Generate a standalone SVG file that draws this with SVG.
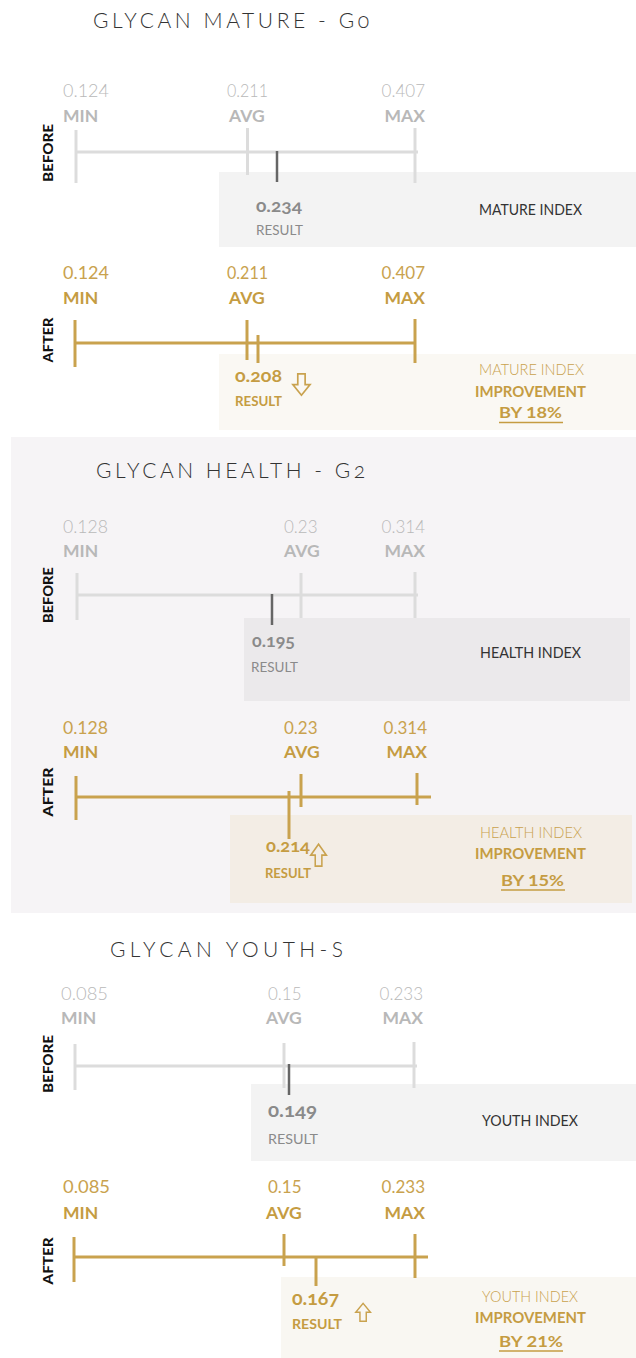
<svg xmlns="http://www.w3.org/2000/svg" xmlns:xlink="http://www.w3.org/1999/xlink" width="636" height="1358" viewBox="0 0 636 1358">
<style>
.title{font-family:Lato,"Liberation Sans",sans-serif;font-weight:300;font-size:21px;fill:#333;font-variant-numeric:oldstyle-nums}
.num-g{font-family:Lato,"Liberation Sans",sans-serif;font-weight:300;font-size:17px;fill:#b9b9b9}
.lab-g{font-family:Lato,"Liberation Sans",sans-serif;font-weight:700;font-size:17.5px;fill:#b8b8b8}
.num-a{font-family:Lato,"Liberation Sans",sans-serif;font-weight:400;font-size:17px;fill:#c9a24e}
.lab-a{font-family:Lato,"Liberation Sans",sans-serif;font-weight:700;font-size:17.5px;fill:#c59c42}
.side{font-family:Lato,"Liberation Sans",sans-serif;font-weight:900;font-size:13px;fill:#111}
.axis-g{stroke:#dcdcdc;stroke-width:3;fill:none}
.axis-a{stroke:#c9a24e;stroke-width:3;fill:none}
.res-g{stroke:#666;stroke-width:2.5}
.rnum-g{font-family:Lato,"Liberation Sans",sans-serif;font-weight:700;font-size:17px;fill:#8a8a8a;font-variant-numeric:oldstyle-nums}
.rres-g{font-family:Lato,"Liberation Sans",sans-serif;font-weight:400;font-size:14px;fill:#8a8a8a}
.rnum-a{font-family:Lato,"Liberation Sans",sans-serif;font-weight:700;font-size:17px;fill:#c59c42;font-variant-numeric:oldstyle-nums}
.rres-a{font-family:Lato,"Liberation Sans",sans-serif;font-weight:700;font-size:14px;fill:#c59c42}
.idx-g{font-family:Lato,"Liberation Sans",sans-serif;font-weight:400;font-size:15px;fill:#333}
.idx-a{font-family:Lato,"Liberation Sans",sans-serif;font-weight:300;font-size:15px;fill:#c9a24e}
.imp-a{font-family:Lato,"Liberation Sans",sans-serif;font-weight:700;font-size:15px;fill:#c59c42}
.ul{stroke:#c59c42;stroke-width:1.5}
.arrow{fill:none;stroke:#c9a24e;stroke-width:1.6;stroke-linejoin:miter}
</style>
<defs>
<path id="arrowDown" d="M5.5,0.8 H12.5 V11 H17.2 L9,21.2 L0.8,11 H5.5 Z"/>
</defs>

<!-- Section 1: MATURE -->
<g id="section-mature">
<text class="title" x="93" y="28" textLength="276" lengthAdjust="spacing">GLYCAN MATURE - G0</text>
</g>
<g id="mature-before">
<text class="num-g" x="63" y="97" textLength="46" lengthAdjust="spacingAndGlyphs">0.124</text>
<text class="lab-g" x="63" y="122">MIN</text>
<text class="num-g" x="227" y="97" textLength="41" lengthAdjust="spacingAndGlyphs">0.211</text>
<text class="lab-g" x="229" y="122">AVG</text>
<text class="num-g" x="425" y="97" text-anchor="end">0.407</text>
<text class="lab-g" x="425" y="122" text-anchor="end">MAX</text>
<text class="side" transform="translate(53,153) rotate(-90)" text-anchor="middle" textLength="58" lengthAdjust="spacingAndGlyphs">BEFORE</text>
<rect x="219" y="172" width="417" height="75" fill="#f3f3f3"/>
<line class="axis-g" x1="76" y1="130" x2="76" y2="183"/>
<line class="axis-g" x1="76" y1="152" x2="418" y2="152"/>
<line class="axis-g" x1="247.5" y1="128" x2="247.5" y2="175"/>
<line class="axis-g" x1="415" y1="128" x2="415" y2="183"/>
<line class="res-g" x1="277" y1="151" x2="277" y2="182"/>
<text class="rnum-g" x="256" y="212" textLength="46" lengthAdjust="spacingAndGlyphs">0.234</text>
<text class="rres-g" x="256" y="235" textLength="47" lengthAdjust="spacingAndGlyphs">RESULT</text>
<text class="idx-g" x="479" y="215" textLength="103" lengthAdjust="spacingAndGlyphs">MATURE INDEX</text>
</g>
<g id="mature-after">
<text class="num-a" x="63" y="279" textLength="46" lengthAdjust="spacingAndGlyphs">0.124</text>
<text class="lab-a" x="63" y="304">MIN</text>
<text class="num-a" x="227" y="279" textLength="41" lengthAdjust="spacingAndGlyphs">0.211</text>
<text class="lab-a" x="229" y="304">AVG</text>
<text class="num-a" x="425" y="279" text-anchor="end">0.407</text>
<text class="lab-a" x="425" y="304" text-anchor="end">MAX</text>
<text class="side" transform="translate(53,340) rotate(-90)" text-anchor="middle" textLength="45" lengthAdjust="spacingAndGlyphs">AFTER</text>
<rect x="219" y="354" width="417" height="76" fill="#faf8f3"/>
<line class="axis-a" x1="75" y1="320" x2="75" y2="367"/>
<line class="axis-a" x1="75" y1="343" x2="415" y2="343"/>
<line class="axis-a" x1="247" y1="320" x2="247" y2="360"/>
<line class="axis-a" x1="258" y1="335" x2="258" y2="363"/>
<line class="axis-a" x1="415" y1="319" x2="415" y2="363"/>
<text class="rnum-a" x="235" y="382" textLength="47" lengthAdjust="spacingAndGlyphs">0.208</text>
<use href="#arrowDown" class="arrow" transform="translate(292,373) scale(1.05,1.05)"/>
<text class="rres-a" x="235" y="406" textLength="47" lengthAdjust="spacingAndGlyphs">RESULT</text>
<text class="idx-a" x="479" y="375" textLength="105" lengthAdjust="spacingAndGlyphs">MATURE INDEX</text>
<text class="imp-a" x="475" y="397" textLength="111" lengthAdjust="spacingAndGlyphs">IMPROVEMENT</text>
<text class="imp-a" x="499" y="418" textLength="63" lengthAdjust="spacingAndGlyphs">BY 18%</text>
<line class="ul" x1="499" y1="422.5" x2="563" y2="422.5"/>
</g>

<!-- Section 2: HEALTH -->
<g id="section-health">
<rect x="11" y="437" width="625" height="476" fill="#f6f4f6"/>
<text class="title" x="96" y="478" textLength="269" lengthAdjust="spacing">GLYCAN HEALTH - G2</text>
</g>
<g id="health-before">
<text class="num-g" x="63" y="533" textLength="45" lengthAdjust="spacingAndGlyphs">0.128</text>
<text class="lab-g" x="63" y="557">MIN</text>
<text class="num-g" x="284" y="533">0.23</text>
<text class="lab-g" x="284" y="557">AVG</text>
<text class="num-g" x="425" y="533" text-anchor="end">0.314</text>
<text class="lab-g" x="425" y="557" text-anchor="end">MAX</text>
<text class="side" transform="translate(53,595) rotate(-90)" text-anchor="middle" textLength="56" lengthAdjust="spacingAndGlyphs">BEFORE</text>
<rect x="244" y="618" width="386" height="83" fill="#ebe9eb"/>
<line class="axis-g" x1="77" y1="573" x2="77" y2="620"/>
<line class="axis-g" x1="77" y1="595" x2="418" y2="595"/>
<line class="axis-g" x1="301" y1="573" x2="301" y2="618"/>
<line class="axis-g" x1="415" y1="572" x2="415" y2="618"/>
<line class="res-g" x1="272" y1="594" x2="272" y2="625"/>
<text class="rnum-g" x="252" y="647" textLength="43" lengthAdjust="spacingAndGlyphs">0.195</text>
<text class="rres-g" x="251" y="672" textLength="47" lengthAdjust="spacingAndGlyphs">RESULT</text>
<text class="idx-g" x="480" y="658" textLength="101" lengthAdjust="spacingAndGlyphs">HEALTH INDEX</text>
</g>
<g id="health-after">
<text class="num-a" x="63" y="734" textLength="45" lengthAdjust="spacingAndGlyphs">0.128</text>
<text class="lab-a" x="63" y="758">MIN</text>
<text class="num-a" x="284" y="734">0.23</text>
<text class="lab-a" x="284" y="758">AVG</text>
<text class="num-a" x="427" y="734" text-anchor="end">0.314</text>
<text class="lab-a" x="427" y="758" text-anchor="end">MAX</text>
<text class="side" transform="translate(53,792) rotate(-90)" text-anchor="middle" textLength="49" lengthAdjust="spacingAndGlyphs">AFTER</text>
<rect x="230" y="815" width="402" height="88" fill="#f3ede5"/>
<line class="axis-a" x1="76" y1="776" x2="76" y2="820"/>
<line class="axis-a" x1="76" y1="797" x2="431" y2="797"/>
<line class="axis-a" x1="301" y1="774" x2="301" y2="807"/>
<line class="axis-a" x1="417" y1="773" x2="417" y2="805"/>
<line class="axis-a" x1="289" y1="791" x2="289" y2="839"/>
<text class="rnum-a" x="266" y="852" textLength="44" lengthAdjust="spacingAndGlyphs">0.214</text>
<use href="#arrowDown" class="arrow" transform="translate(310,867) scale(0.95,-1.08)"/>
<text class="rres-a" x="265" y="878" textLength="46" lengthAdjust="spacingAndGlyphs">RESULT</text>
<text class="idx-a" x="480" y="838" textLength="102" lengthAdjust="spacingAndGlyphs">HEALTH INDEX</text>
<text class="imp-a" x="475" y="859" textLength="111" lengthAdjust="spacingAndGlyphs">IMPROVEMENT</text>
<text class="imp-a" x="501" y="886" textLength="63" lengthAdjust="spacingAndGlyphs">BY 15%</text>
<line class="ul" x1="501" y1="890" x2="565" y2="890"/>
</g>

<!-- Section 3: YOUTH -->
<g id="section-youth">
<text class="title" x="110" y="957" textLength="233" lengthAdjust="spacing">GLYCAN YOUTH-S</text>
</g>
<g id="youth-before">
<text class="num-g" x="61" y="1000" textLength="47" lengthAdjust="spacingAndGlyphs">0.085</text>
<text class="lab-g" x="61" y="1024">MIN</text>
<text class="num-g" x="268" y="1000">0.15</text>
<text class="lab-g" x="266" y="1024">AVG</text>
<text class="num-g" x="423" y="1000" text-anchor="end">0.233</text>
<text class="lab-g" x="423" y="1024" text-anchor="end">MAX</text>
<text class="side" transform="translate(53,1064) rotate(-90)" text-anchor="middle" textLength="58" lengthAdjust="spacingAndGlyphs">BEFORE</text>
<rect x="251" y="1084" width="385" height="77" fill="#f3f3f3"/>
<line class="axis-g" x1="75" y1="1044" x2="75" y2="1090"/>
<line class="axis-g" x1="75" y1="1066" x2="417" y2="1066"/>
<line class="axis-g" x1="284" y1="1043" x2="284" y2="1088"/>
<line class="axis-g" x1="414" y1="1042" x2="414" y2="1088"/>
<line class="res-g" x1="289" y1="1064" x2="289" y2="1095"/>
<text class="rnum-g" x="268" y="1117" style="font-size:18px" textLength="49" lengthAdjust="spacingAndGlyphs">0.149</text>
<text class="rres-g" x="268" y="1144" textLength="50" lengthAdjust="spacingAndGlyphs">RESULT</text>
<text class="idx-g" x="482" y="1126" textLength="96" lengthAdjust="spacingAndGlyphs">YOUTH INDEX</text>
</g>
<g id="youth-after">
<text class="num-a" x="63" y="1193" textLength="47" lengthAdjust="spacingAndGlyphs">0.085</text>
<text class="lab-a" x="63" y="1219">MIN</text>
<text class="num-a" x="268" y="1193">0.15</text>
<text class="lab-a" x="266" y="1219">AVG</text>
<text class="num-a" x="425" y="1193" text-anchor="end">0.233</text>
<text class="lab-a" x="425" y="1219" text-anchor="end">MAX</text>
<text class="side" transform="translate(53,1261) rotate(-90)" text-anchor="middle" textLength="47" lengthAdjust="spacingAndGlyphs">AFTER</text>
<rect x="281" y="1277" width="355" height="81" fill="#f9f7f2"/>
<line class="axis-a" x1="74" y1="1237" x2="74" y2="1282"/>
<line class="axis-a" x1="74" y1="1257" x2="428" y2="1257"/>
<line class="axis-a" x1="284" y1="1234" x2="284" y2="1266"/>
<line class="axis-a" x1="415" y1="1234" x2="415" y2="1278"/>
<line class="axis-a" x1="316" y1="1258" x2="316" y2="1286"/>
<text class="rnum-a" x="292" y="1305" style="font-size:19px" textLength="47" lengthAdjust="spacingAndGlyphs">0.167</text>
<use href="#arrowDown" class="arrow" transform="translate(355,1322) scale(0.9,-0.88)"/>
<text class="rres-a" x="292" y="1329" textLength="50" lengthAdjust="spacingAndGlyphs">RESULT</text>
<text class="idx-a" x="482" y="1302" textLength="96" lengthAdjust="spacingAndGlyphs">YOUTH INDEX</text>
<text class="imp-a" x="475" y="1323" textLength="111" lengthAdjust="spacingAndGlyphs">IMPROVEMENT</text>
<text class="imp-a" x="499" y="1347" textLength="64" lengthAdjust="spacingAndGlyphs">BY 21%</text>
<line class="ul" x1="499" y1="1351" x2="563" y2="1351"/>
</g>
<g id="connectors"></g>
</svg>
